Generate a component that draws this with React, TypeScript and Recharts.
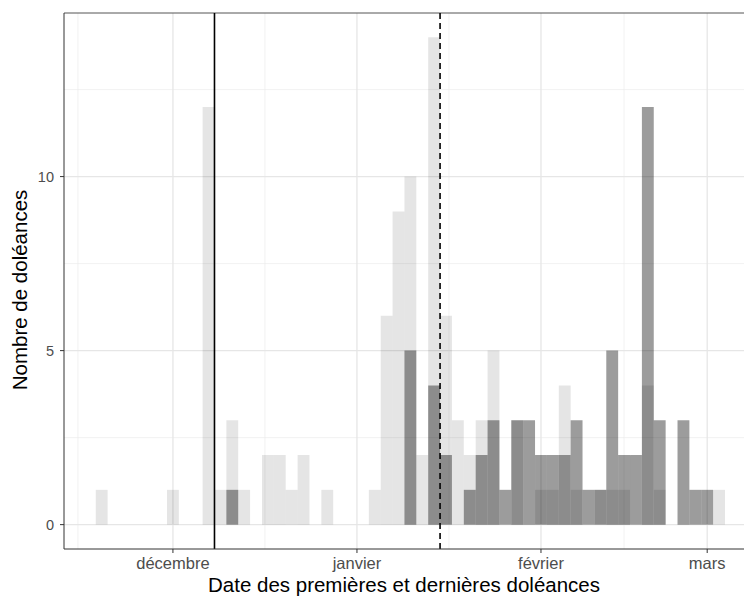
import { ComposedChart, Bar, XAxis, YAxis, CartesianGrid, ReferenceLine } from 'recharts'

// 2-day bins, centre given in days since 1 December
const binCenters = [
  -12, -10, -8, -6, -4, -2, 0, 2, 4, 6,
  8, 10, 12, 14, 16, 18, 20, 22, 24, 26,
  28, 30, 32, 34, 36, 38, 40, 42, 44, 46,
  48, 50, 52, 54, 56, 58, 60, 62, 64, 66,
  68, 70, 72, 74, 76, 78, 80, 82, 84, 86,
  88, 90, 92,
]

// premières doléances (light)
const firstCounts = [
  1, 0, 0, 0, 0, 0, 1, 0, 0, 12,
  1, 3, 1, 0, 2, 2, 1, 2, 0, 1,
  0, 0, 0, 1, 6, 9, 10, 2, 14, 6,
  3, 2, 3, 5, 0, 3, 0, 1, 1, 4,
  1, 0, 1, 1, 1, 0, 4, 1, 0, 0,
  0, 0, 1,
]

// dernières doléances (dark)
const lastCounts = [
  0, 0, 0, 0, 0, 0, 0, 0, 0, 0,
  0, 1, 0, 0, 0, 0, 0, 0, 0, 0,
  0, 0, 0, 0, 0, 0, 5, 0, 4, 2,
  0, 1, 2, 3, 1, 3, 3, 2, 2, 2,
  3, 1, 1, 5, 2, 2, 12, 3, 0, 3,
  1, 1, 0,
]

const monthTicks = [0, 31, 62, 90]
const monthLabels = ['décembre', 'janvier', 'février', 'mars']
const minorX = [-16, 15.5, 46.5, 76]
const yTicks = [0, 5, 10]
const minorY = [2.5, 7.5, 12.5]

const firstMedian = 7 // trait plein
const lastMedian = 45 // trait pointillé

const X_DOMAIN: [number, number] = [-18.35, 96.2]
const Y_DOMAIN: [number, number] = [-0.7, 14.7]
const BIN_PX = 11.87

const FONT = '"Liberation Sans", Arial, Helvetica, sans-serif'

const data = binCenters.map((d, i) => ({ day: d, first: firstCounts[i], last: lastCounts[i] }))

export default function App() {
  return (
    <div style={{ position: 'absolute', left: 0, top: 0, background: '#fff' }}>
      <ComposedChart
        width={745}
        height={600}
        data={data}
        margin={{ top: 13, right: 1, bottom: 0, left: 0 }}
        style={{ fontFamily: FONT }}
      >
        <CartesianGrid
          xAxisId="main"
          stroke="#ededed"
          strokeWidth={0.7}
          verticalValues={minorX}
          horizontalValues={minorY}
        />
        <CartesianGrid
          xAxisId="main"
          stroke="#e6e6e6"
          strokeWidth={1.3}
          verticalValues={monthTicks}
          horizontalValues={yTicks}
        />
        <XAxis
          xAxisId="main"
          type="number"
          dataKey="day"
          domain={X_DOMAIN}
          allowDataOverflow
          ticks={monthTicks}
          tickFormatter={(v: number) => monthLabels[monthTicks.indexOf(v)]}
          height={51}
          tickSize={4}
          tickMargin={4}
          stroke="#333"
          tick={{ fill: '#4d4d4d', fontSize: 16.5 }}
          label={{
            content: () => (
              <text x={404} y={592} textAnchor="middle" fontSize={20.5} fill="#000" fontFamily={FONT}>
                Date des premières et dernières doléances
              </text>
            ),
          }}
        />
        <XAxis
          xAxisId="last"
          type="number"
          dataKey="day"
          domain={X_DOMAIN}
          allowDataOverflow
          hide
          height={0}
        />
        <YAxis
          type="number"
          domain={Y_DOMAIN}
          allowDataOverflow
          ticks={yTicks}
          width={64}
          tickSize={4}
          tickMargin={6}
          stroke="#333"
          tick={{ fill: '#4d4d4d', fontSize: 14.5 }}
          label={{
            content: () => (
              <text
                x={27}
                y={290}
                transform="rotate(-90, 27, 290)"
                textAnchor="middle"
                fontSize={20.5}
                fill="#000"
                fontFamily={FONT}
              >
                Nombre de doléances
              </text>
            ),
          }}
        />
        <Bar
          xAxisId="main"
          dataKey="first"
          barSize={BIN_PX}
          fill="#000"
          fillOpacity={0.1}
          isAnimationActive={false}
        />
        <Bar
          xAxisId="last"
          dataKey="last"
          barSize={BIN_PX}
          fill="#000"
          fillOpacity={0.39}
          isAnimationActive={false}
        />
        <ReferenceLine xAxisId="main" y={Y_DOMAIN[1]} stroke="#555" strokeWidth={1} ifOverflow="visible" />
        <ReferenceLine xAxisId="main" x={firstMedian} stroke="#000" strokeWidth={1.6} />
        <ReferenceLine xAxisId="main" x={lastMedian} stroke="#000" strokeWidth={1.6} strokeDasharray="6 4" />
      </ComposedChart>
    </div>
  )
}
